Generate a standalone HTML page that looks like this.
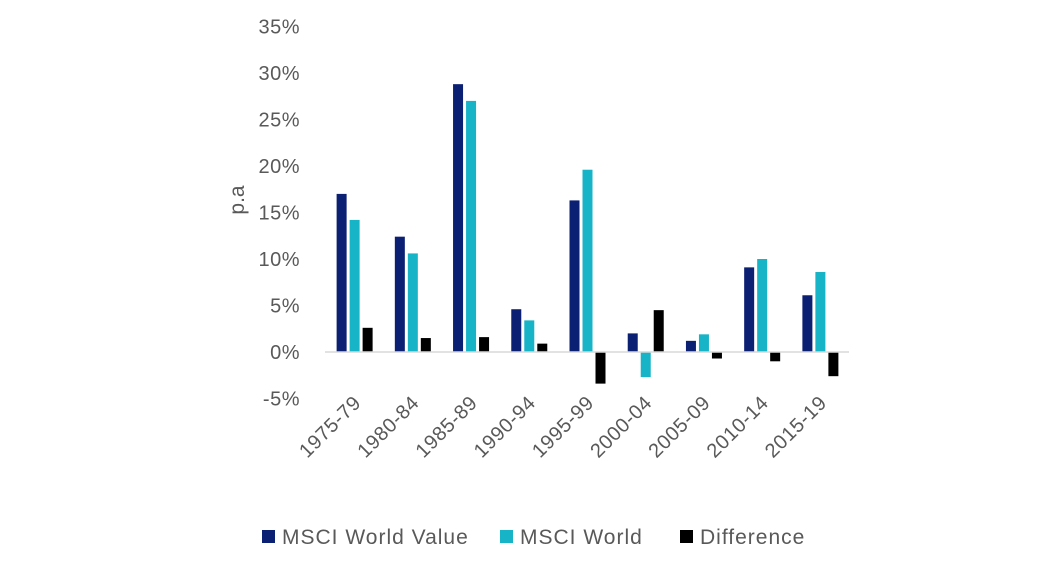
<!DOCTYPE html>
<html><head><meta charset="utf-8"><style>
body{margin:0;background:#fff;font-family:"Liberation Sans",sans-serif}
svg text{font-family:"Liberation Sans",sans-serif;fill:#595959}
</style></head><body>
<svg width="1043" height="569">
<g id="g"></g>
</svg>
<script>
const categories=["1975-79","1980-84","1985-89","1990-94","1995-99","2000-04","2005-09","2010-14","2015-19"];
const valueSeries=[17.0,12.4,28.8,4.6,16.3,2.0,1.2,9.1,6.1];
const worldSeries=[14.2,10.6,27.0,3.4,19.6,-2.7,1.9,10.0,8.6];
const diffSeries=[2.6,1.5,1.6,0.9,-3.4,4.5,-0.7,-1.0,-2.6];
const ticks=[-5,0,5,10,15,20,25,30,35];
const NS="http://www.w3.org/2000/svg";
const g=document.getElementById('g');
const x0=325,x1=849,y0=352,pp=9.3;
const y=v=>y0-v*pp;
const bw=(x1-x0)/categories.length;
function el(t,a,txt){const e=document.createElementNS(NS,t);for(const k in a)e.setAttribute(k,a[k]);if(txt!=null)e.textContent=txt;g.appendChild(e);return e;}
ticks.forEach(t=>{const e=el('text',{x:300,y:y(t)+7,'text-anchor':'end','font-size':20,'letter-spacing':0.5},t+'%');

});
const yt=el('text',{x:244,y:200,'text-anchor':'middle','font-size':21,transform:'rotate(-90 244 200)'},'p.a');


const series=[[valueSeries,'#0b1f73','value'],[worldSeries,'#17b3c6','world'],[diffSeries,'#000','difference']];
categories.forEach((c,i)=>{const cx=x0+bw*(i+0.5);
series.forEach(([s,col,n],j)=>{const v=s[i];const bx=cx-17.5+j*13;
const r=el('rect',{x:bx,y:Math.min(y(v),y0),width:10,height:Math.abs(y(v)-y0),fill:col});

});
const t=el('text',{x:cx+8,y:y0+52,'text-anchor':'end','font-size':20,'letter-spacing':0.6,transform:`rotate(-45 ${cx+8} ${y0+52})`},c);

});
const ax=el('line',{x1:x0,x2:x1,y1:y0,y2:y0,stroke:'#d9d9d9','stroke-width':1.5});


const leg=[['MSCI World Value','#0b1f73',262],['MSCI World','#17b3c6',500],['Difference','#000',680]];
leg.forEach(([n,c,lx])=>{const r=el('rect',{x:lx,y:530,width:13,height:13,fill:c});


const t=el('text',{x:lx+20,y:544,'font-size':21,'letter-spacing':1},n);

});
</script>
</body></html>
